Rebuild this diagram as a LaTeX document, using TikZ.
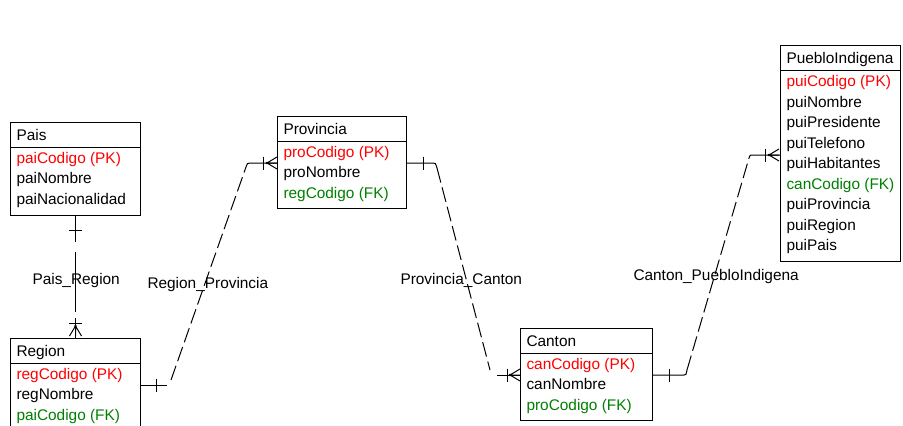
\documentclass[tikz,border=0pt]{standalone}
\usepackage{fontspec}
\setmainfont{Liberation Sans}
\usetikzlibrary{calc}
\definecolor{pkred}{RGB}{255,0,0}
\definecolor{fkgreen}{RGB}{0,128,0}
\begin{document}
\begin{tikzpicture}[x=1pt,y=-1pt,line width=1pt,
  entity/.style={draw,anchor=north west,inner sep=0pt},
  txt/.style={anchor=base west,inner sep=0pt,font=\fontsize{15.4pt}{18pt}\selectfont},
  pkattr/.style={txt,text=pkred},
  fkattr/.style={txt,text=fkgreen},
  relname/.style={txt},
  dashline/.style={dash pattern=on 15pt off 5pt},
  onebar/.pic={\draw (0,-6.5) -- (0,6.5);},
  crowfoot/.pic={\draw (10,-6) -- (0,0) -- (10,6) (0,0) -- (10,0);
                 \fill (0,0) circle (1.4pt);}]
\useasboundingbox (0,0) rectangle (903,426);
\clip (0,0) rectangle (903,426);
\fill[white] (0,0) rectangle (903,426);

% ---------- entities ----------
% Pais
\node[entity,minimum width=130pt,minimum height=92.5pt] (pais) at (10,122) {};
\draw ($(pais.north west)+(0,25)$) -- ($(pais.north east)+(0,25)$);
\node[txt]    (paisT) at ($(pais.north west)+(6,18.5)$) {Pais};
\node[pkattr] (pais1) at ($(pais.north west)+(6,41)$) {paiCodigo (PK)};
\node[txt]    (pais2) at ($(pais.north west)+(6,61.5)$) {paiNombre};
\node[txt]    (pais3) at ($(pais.north west)+(6,82)$) {paiNacionalidad};

% Region
\node[entity,minimum width=130pt,minimum height=92.5pt] (region) at (10,338) {};
\draw ($(region.north west)+(0,25)$) -- ($(region.north east)+(0,25)$);
\node[txt]    (regionT) at ($(region.north west)+(6,18.5)$) {Region};
\node[pkattr] (region1) at ($(region.north west)+(6,41)$) {regCodigo (PK)};
\node[txt]    (region2) at ($(region.north west)+(6,61.5)$) {regNombre};
\node[fkattr] (region3) at ($(region.north west)+(6,82)$) {paiCodigo (FK)};

% Provincia
\node[entity,minimum width=129pt,minimum height=92pt] (prov) at (277,116) {};
\draw ($(prov.north west)+(0,25)$) -- ($(prov.north east)+(0,25)$);
\node[txt]    (provT) at ($(prov.north west)+(6,18.5)$) {Provincia};
\node[pkattr] (prov1) at ($(prov.north west)+(6,41)$) {proCodigo (PK)};
\node[txt]    (prov2) at ($(prov.north west)+(6,61.5)$) {proNombre};
\node[fkattr] (prov3) at ($(prov.north west)+(6,82)$) {regCodigo (FK)};

% Canton
\node[entity,minimum width=132pt,minimum height=92pt] (canton) at (520,328) {};
\draw ($(canton.north west)+(0,25)$) -- ($(canton.north east)+(0,25)$);
\node[txt]    (cantonT) at ($(canton.north west)+(6,18.5)$) {Canton};
\node[pkattr] (canton1) at ($(canton.north west)+(6,41)$) {canCodigo (PK)};
\node[txt]    (canton2) at ($(canton.north west)+(6,61.5)$) {canNombre};
\node[fkattr] (canton3) at ($(canton.north west)+(6,82)$) {proCodigo (FK)};

% PuebloIndigena
\node[entity,minimum width=120pt,minimum height=216pt] (pueblo) at (780,45) {};
\draw ($(pueblo.north west)+(0,25)$) -- ($(pueblo.north east)+(0,25)$);
\node[txt]    (puebloT) at ($(pueblo.north west)+(6,18.5)$) {PuebloIndigena};
\node[pkattr] (pueblo1) at ($(pueblo.north west)+(6,41.5)$) {puiCodigo (PK)};
\node[txt]    (pueblo2) at ($(pueblo.north west)+(6,62)$) {puiNombre};
\node[txt]    (pueblo3) at ($(pueblo.north west)+(6,82.5)$) {puiPresidente};
\node[txt]    (pueblo4) at ($(pueblo.north west)+(6,103)$) {puiTelefono};
\node[txt]    (pueblo5) at ($(pueblo.north west)+(6,123.5)$) {puiHabitantes};
\node[fkattr] (pueblo6) at ($(pueblo.north west)+(6,144)$) {canCodigo (FK)};
\node[txt]    (pueblo7) at ($(pueblo.north west)+(6,164.5)$) {puiProvincia};
\node[txt]    (pueblo8) at ($(pueblo.north west)+(6,185)$) {puiRegion};
\node[txt]    (pueblo9) at ($(pueblo.north west)+(6,205.5)$) {puiPais};

% ---------- relationships ----------
% Pais_Region
\coordinate (pr1) at ($(pais.south)+(0,26)$);
\coordinate (pr2) at ($(pais.south)+(0,36)$);
\coordinate (pr3) at ($(region.north)+(0,-26)$);
\coordinate (pr4) at ($(region.north)+(0,-20)$);
\draw (pais.south) -- (pr1);
\draw (pr2) -- (pr3);
\draw (pr4) -- (region.north);
\pic[rotate=-90] at ($(pais.south)+(0,15)$) {onebar};
\pic[rotate=-90] at ($(region.north)+(0,-15)$) {onebar};
\pic[rotate=-90] at ($(region.north)+(0,-12)$) {crowfoot};
\node[relname] (lblPR) at (32,284) {Pais\_Region};

% Region_Provincia
\coordinate (rpA) at ($(region.north east)+(0,47)$);
\coordinate (rpB) at ($(prov.north west)+(0,47)$);
\coordinate (rp1) at (167,385);
\coordinate (rp2) at (171,380);
\coordinate (rp3) at (246,167);
\coordinate (rp4) at (250,163);
\draw (rpA) -- (rp1);
\draw[dashline] (rp2) -- (rp3);
\draw (rp3) .. controls (247.5,163) .. (rp4) -- (rpB);
\pic at ($(rpA)+(15,0)$) {onebar};
\pic at ($(rpB)+(-14,0)$) {onebar};
\pic at ($(rpB)+(-10,0)$) {crowfoot};
\node[relname] (lblRP) at (147,288) {Region\_Provincia};

% Provincia_Canton
\coordinate (pcA) at ($(prov.north east)+(0,47)$);
\coordinate (pcB) at ($(canton.north west)+(0,47)$);
\coordinate (pc1) at (433,163);
\coordinate (pc2) at (437,168);
\coordinate (pc3) at (490,370);
\coordinate (pc4) at (497,375);
\draw (pcA) -- (pc1) .. controls (435.5,163) .. (pc2);
\draw[dashline] (pc2) -- (pc3);
\draw (pc4) -- (pcB);
\pic at ($(pcA)+(16,0)$) {onebar};
\pic at ($(pcB)+(-13,0)$) {onebar};
\pic at ($(pcB)+(-10,0)$) {crowfoot};
\node[relname] (lblPC) at (400,284) {Provincia\_Canton};

% Canton_PuebloIndigena
\coordinate (cpA) at ($(canton.north east)+(0,47)$);
\coordinate (cpB) at ($(pueblo.north west)+(0,110)$);
\coordinate (cp1) at (684,375);
\coordinate (cp2) at (687,370);
\coordinate (cp3) at (749,158);
\coordinate (cp4) at (752,155);
\draw (cpA) -- (cp1) .. controls (686,375) .. (cp2);
\draw[dashline] (cp2) -- (cp3);
\draw (cp3) .. controls (750,155) .. (cp4) -- (cpB);
\pic at ($(cpA)+(16,0)$) {onebar};
\pic at ($(cpB)+(-15,0)$) {onebar};
\pic at ($(cpB)+(-11,0)$) {crowfoot};
\node[relname] (lblCP) at (633,280) {Canton\_PuebloIndigena};
\end{tikzpicture}
\end{document}
